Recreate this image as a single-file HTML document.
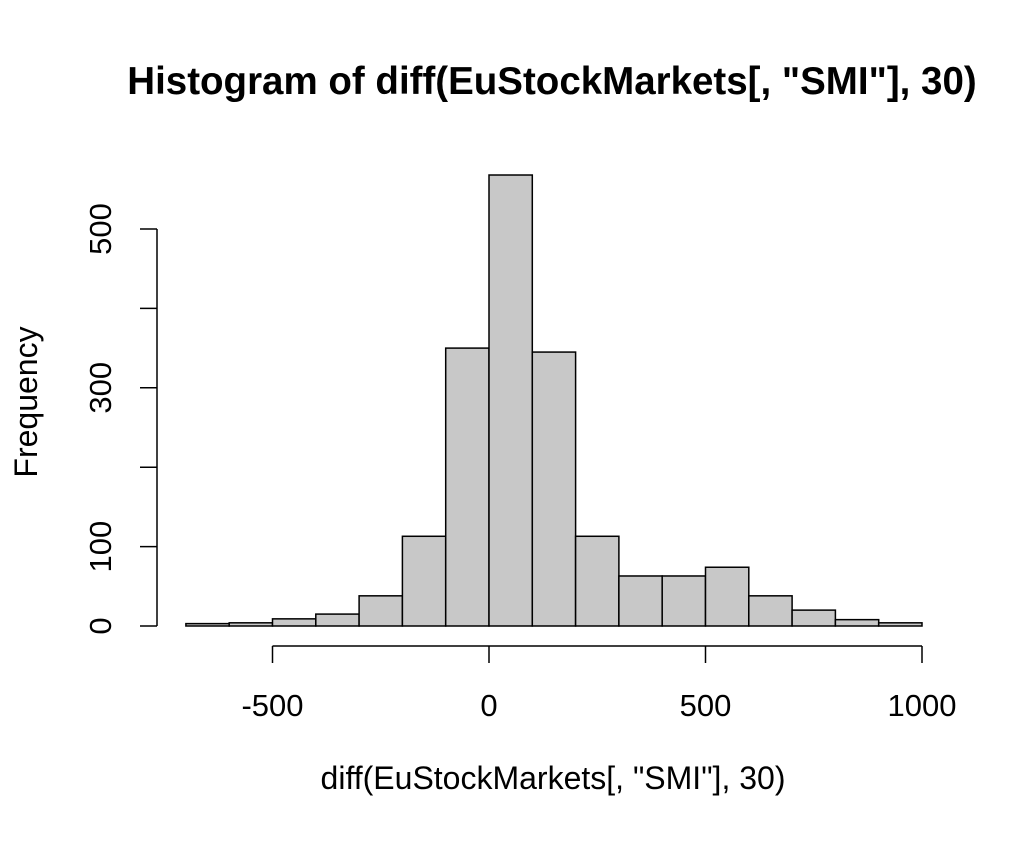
<!DOCTYPE html>
<html><head><meta charset="utf-8"><style>
body{margin:0;background:#fff;}
svg text{font-family:"Liberation Sans",Arial,sans-serif;fill:#000;}
</style></head><body>
<svg width="1032" height="840">
<text x="552" y="94" font-size="38.5" font-weight="bold" text-anchor="middle">Histogram of diff(EuStockMarkets[, "SMI"], 30)</text>
<g id="bars"></g>
<g id="xaxis"></g>
<g id="yaxis"></g>
<text x="553" y="789" font-size="32" text-anchor="middle">diff(EuStockMarkets[, "SMI"], 30)</text>
<text transform="translate(37,402) rotate(-90)" font-size="32" text-anchor="middle">Frequency</text>
</svg>
<script>
const binStarts=[-700,-600,-500,-400,-300,-200,-100,0,100,200,300,400,500,600,700,800,900];
const counts=[3,4,9,15,38,113,350,568,345,113,63,63,74,38,20,8,4];
const xTicks=[-500,0,500,1000];
const yTicks=[0,100,200,300,400,500];
const yLabels=["0","100","","300","","500"];
const binWidth=100;
const NS="http://www.w3.org/2000/svg";
const X=v=>489+(v)*(922-489)/1000;
const Y=v=>626-v*(626-229)/500;
function mk(t,a,p){const e=document.createElementNS(NS,t);for(const k in a)e.setAttribute(k,a[k]);p.appendChild(e);return e;}
const bars=document.getElementById('bars');
binStarts.forEach((b,i)=>{
 const r=mk('rect',{x:X(b),y:Y(counts[i]),width:X(b+binWidth)-X(b),height:Y(0)-Y(counts[i]),fill:'#c8c8c8',stroke:'#000','stroke-width':1.5},bars);
 
 
});
const xa=document.getElementById('xaxis');
mk('line',{x1:X(xTicks[0]),x2:X(xTicks[xTicks.length-1]),y1:646,y2:646,stroke:'#000','stroke-width':1.5},xa);
xTicks.forEach(t=>{
 mk('line',{x1:X(t),x2:X(t),y1:646,y2:663,stroke:'#000','stroke-width':1.5},xa);
 const tx=mk('text',{x:X(t),y:716,'font-size':31,'text-anchor':'middle'},xa);tx.textContent=t;
 
 
});
const ya=document.getElementById('yaxis');
mk('line',{x1:157,x2:157,y1:Y(0),y2:Y(500),stroke:'#000','stroke-width':1.5},ya);
yTicks.forEach((t,i)=>{
 mk('line',{x1:140,x2:157,y1:Y(t),y2:Y(t),stroke:'#000','stroke-width':1.5},ya);
 if(yLabels[i]){const tx=mk('text',{transform:`translate(111,${Y(t)}) rotate(-90)`,'font-size':31,'text-anchor':'middle'},ya);tx.textContent=yLabels[i];
 
 }
});
</script>
</body></html>
